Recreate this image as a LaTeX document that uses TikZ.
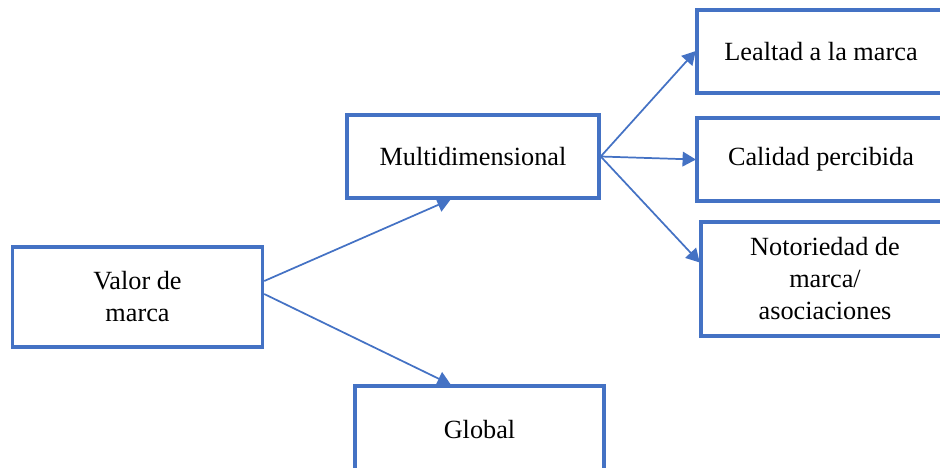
\documentclass[tikz,border=0pt]{standalone}
\usepackage{fontspec}
\setmainfont{Liberation Serif}
\usetikzlibrary{arrows.meta}
\definecolor{boxblue}{HTML}{4472C4}
\tikzset{
  box/.style={draw=boxblue, line width=2.6pt, fill=white, align=center,
    inner sep=0pt, font=\rmfamily\fontsize{19.7}{24}\selectfont},
  link/.style={draw=boxblue, line width=1.3pt,
    -{Triangle[length=10pt,width=11pt]}, shorten >=-0.5pt}
}
\begin{document}
\begin{tikzpicture}[x=0.75pt,y=-0.75pt]
  \useasboundingbox (0,0) rectangle (940,468);
  \clip (0,0) rectangle (940,468);
  % boxes
  \node[box, minimum width=187.5pt, minimum height=75pt] (valor) at (137.5,297) {Valor de\\marca};
  \node[box, minimum width=189pt, minimum height=62.25pt] (multi) at (473,156.5) {Multidimensional};
  \node[box, minimum width=186.75pt, minimum height=66pt] (global) at (479.5,430) {Global};
  \node[box, minimum width=186pt, minimum height=62.25pt] (leal) at (821,51.5) {Lealtad a la marca};
  \node[box, minimum width=186pt, minimum height=62.25pt] (calidad) at (821,159.5) {Calidad percibida};
  \node[box, minimum width=186pt, minimum height=85.5pt] (notor) at (825,279) {Notoriedad de\\marca/\\asociaciones};
  % connectors
  \draw[link] ([yshift=12pt]valor.east) -- ([xshift=-17.25pt]multi.south);
  \draw[link] ([yshift=2.25pt]valor.east) -- ([xshift=-22pt]global.north);
  \draw[link] (multi.east) -- (leal.west);
  \draw[link] (multi.east) -- (calidad.west);
  \draw[link] (multi.east) -- ([yshift=12.75pt]notor.west);
\end{tikzpicture}
\end{document}
